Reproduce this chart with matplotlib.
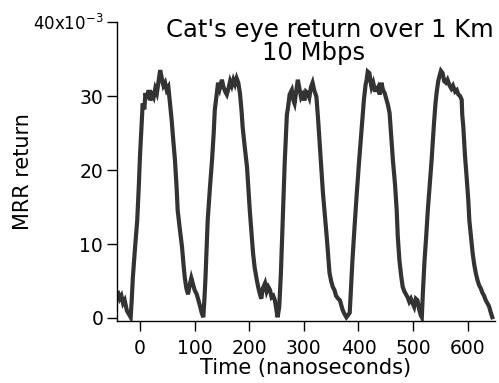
import matplotlib
matplotlib.use("Agg")
import matplotlib.pyplot as plt

# trace: time in ns, MRR return in units of 1e-3
time_ns = [
    -40, -37, -34, -31, -28, -24, -20, -17, -15, -13, -9, -5, -2, 0, 3, 5, 8, 10,
    13, 16, 19, 22, 25, 28, 31, 34, 37, 40, 43, 46, 49, 52, 55, 58, 61, 64, 67,
    69, 73, 77, 80, 82, 85, 88, 91, 94, 97, 100, 104, 107, 110, 113, 116, 118,
    120, 124, 128, 132, 135, 137, 140, 143, 146, 150, 153, 156, 159, 162, 165,
    168, 171, 174, 177, 180, 183, 186, 188, 192, 196, 199, 201, 204, 207, 210,
    214, 217, 219, 222, 225, 229, 232, 235, 238, 241, 244, 247, 250, 252, 255,
    258, 261, 265, 269, 271, 274, 278, 281, 283, 286, 289, 292, 295, 298, 301,
    304, 307, 310, 313, 316, 319, 323, 326, 329, 332, 335, 339, 342, 345, 347,
    350, 353, 356, 359, 363, 366, 369, 371, 374, 378, 381, 384, 386, 389, 393,
    397, 401, 406, 410, 413, 415, 417, 420, 422, 424, 427, 430, 433, 436, 439,
    442, 445, 448, 451, 454, 457, 460, 463, 467, 470, 472, 475, 478, 481, 484,
    487, 490, 493, 496, 499, 502, 505, 508, 511, 514, 516, 518, 521, 524, 527,
    531, 534, 538, 541, 543, 546, 548, 551, 554, 557, 560, 563, 567, 570, 573,
    577, 580, 583, 586, 589, 590, 592, 595, 598, 601, 603, 606, 609, 612, 615,
    618, 621, 624, 627, 630, 633, 636, 639, 642, 645,
]
mrr_return = [
    3.4, 2.6, 3.0, 2.0, 2.4, 1.0, 0.5, 0.1, 2.5, 5.5, 9.5, 13.2, 18.0, 21.8,
    26.0, 29.0, 28.2, 30.4, 29.6, 30.8, 29.4, 30.2, 29.8, 31.0, 30.4, 32.0,
    33.5, 32.4, 31.4, 31.8, 30.8, 31.2, 29.0, 26.8, 24.0, 21.4, 17.8, 14.6,
    12.0, 9.6, 7.0, 5.5, 4.0, 3.2, 4.4, 5.4, 4.6, 3.8, 3.2, 2.4, 1.6, 0.7, 0.1,
    2.5, 5.5, 13.2, 17.5, 21.4, 25.0, 28.1, 30.0, 31.8, 31.0, 32.2, 31.2, 30.6,
    30.2, 31.0, 32.0, 31.4, 32.2, 31.6, 32.4, 31.8, 30.4, 28.0, 25.8, 23.0,
    20.4, 17.0, 14.6, 11.6, 8.8, 6.8, 5.1, 4.0, 3.4, 2.6, 4.0, 4.7, 3.6, 4.2,
    3.8, 2.8, 3.0, 2.4, 1.0, 0.1, 1.5, 6.0, 12.3, 21.0, 27.5, 28.4, 30.2, 30.8,
    29.4, 29.0, 30.6, 32.2, 31.0, 29.8, 30.2, 29.4, 30.6, 30.4, 29.8, 31.2,
    31.8, 30.8, 29.9, 27.0, 23.6, 20.0, 16.9, 13.5, 10.9, 8.0, 6.1, 5.0, 4.2,
    3.8, 3.0, 2.6, 2.4, 1.6, 1.1, 0.6, 0.1, 0.4, 0.7, 3.5, 7.8, 12.5, 16.9,
    21.0, 25.8, 29.5, 31.5, 32.2, 33.3, 33.1, 32.0, 31.2, 31.8, 30.8, 30.8,
    31.2, 30.2, 31.8, 30.8, 30.4, 29.6, 28.8, 27.7, 24.5, 21.4, 18.0, 14.6,
    11.0, 7.8, 5.8, 4.2, 3.6, 3.2, 2.8, 2.2, 2.6, 2.0, 1.5, 2.6, 2.4, 1.2, 0.4,
    0.1, 3.5, 7.8, 11.0, 14.6, 18.5, 21.4, 26.0, 29.0, 30.4, 32.0, 32.6, 33.4,
    33.1, 32.0, 31.8, 32.2, 31.4, 31.0, 31.4, 30.6, 30.8, 30.2, 30.0, 29.5,
    27.5, 25.8, 22.0, 19.1, 16.0, 13.2, 11.0, 8.8, 7.2, 6.0, 5.1, 4.4, 4.0,
    3.4, 3.0, 2.4, 2.0, 1.6, 0.8, 0.1,
]

x_ticks = [0, 100, 200, 300, 400, 500, 600]
y_ticks = [0, 10, 20, 30, 40]
y_tick_labels = ["0", "10", "20", "30", "40x10$^{-3}$"]

fig = plt.figure(figsize=(4.99, 3.83), dpi=100)
ax = fig.add_axes([0.2345, 0.162, 0.7575, 0.7805])

ax.plot(time_ns, mrr_return, color="#333333", lw=3, solid_joinstyle="miter")

ax.set_xlim(-42, 650)
ax.set_ylim(-0.4, 40)
ax.set_xticks(x_ticks)
ax.set_yticks(y_ticks, labels=y_tick_labels)
ax.tick_params(direction="out", length=7, width=1, labelsize=13.5, color="black")
ax.tick_params(axis="x", pad=6)
ax.tick_params(axis="y", pad=3)
# the exponent label is set a little smaller
ax.get_yticklabels()[-1].set_fontsize(12)

for side in ["top", "right"]:
    ax.spines[side].set_visible(False)
for side in ["left", "bottom"]:
    ax.spines[side].set_linewidth(1)

ax.set_xlabel("Time (nanoseconds)", fontsize=15, labelpad=0)
fig.text(0.046, 0.553, "MRR return", fontsize=15, rotation=90,
         ha="center", va="center")

fig.text(0.661, 0.903, "Cat's eye return over 1 Km", fontsize=17.5,
         ha="center", va="baseline")
fig.text(0.628, 0.843, "10 Mbps", fontsize=17.5, ha="center", va="baseline")

fig.savefig("out.png", dpi=100)
